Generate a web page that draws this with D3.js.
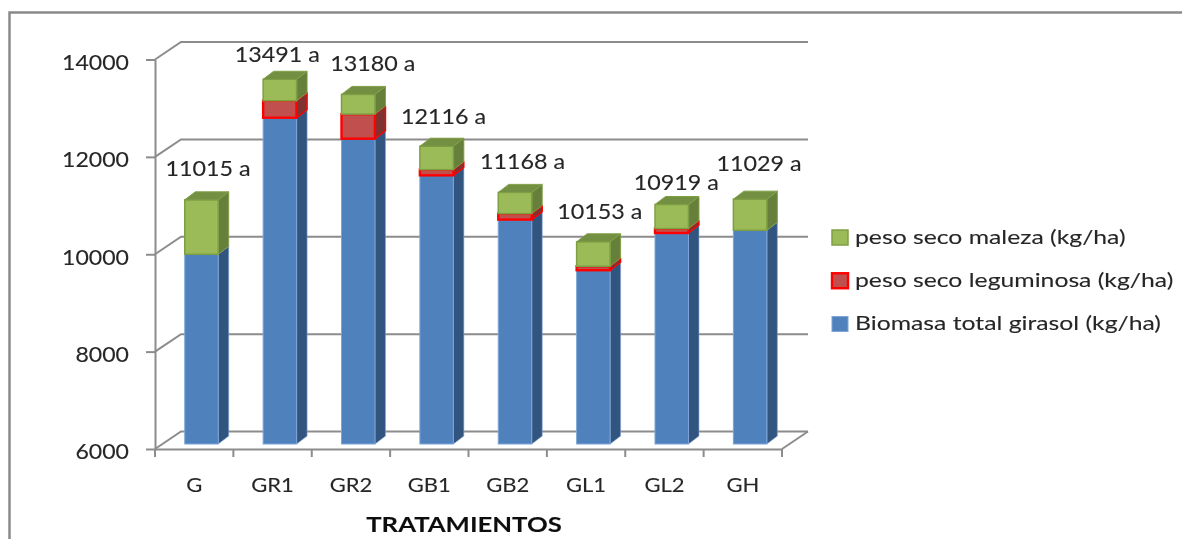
<!DOCTYPE html>
<html>
<head>
<meta charset="utf-8">
<script src="https://cdn.jsdelivr.net/npm/d3@7"></script>
<style>
    html, body { margin: 0; padding: 0; background: #fff; }
    svg { display: block; }
    text { font-family: Lato, "Open Sans", sans-serif; fill: #262626; stroke: #262626; stroke-width: 0.1px; }
</style>
</head>
<body>
<svg id="chart" width="1182" height="539"></svg>
<script>
const categories = ['G', 'GR1', 'GR2', 'GB1', 'GB2', 'GL1', 'GL2', 'GH'];
const biomasa = [9897, 12701, 12271, 11518, 10609, 9569, 10334, 10390];
const leguminosa = [0, 349, 505, 117, 123, 82, 90, 0];
const maleza = [1118, 441, 404, 481, 436, 502, 495, 639];
const totals = [11015, 13491, 13180, 12116, 11168, 10153, 10919, 11029];
const yTicks = [6000, 8000, 10000, 12000, 14000];
const seriesNames = ['Biomasa total girasol (kg/ha)', 'peso seco leguminosa (kg/ha)', 'peso seco maleza (kg/ha)'];
const axisTitle = 'TRATAMIENTOS';

const svg = d3.select('#chart');

// slightly soft edges, the original is an upscaled screenshot
svg.append('defs').append('filter')
    .attr('id', 'soft')
    .append('feGaussianBlur')
    .attr('stdDeviation', 0.55);

const root = svg.append('g').attr('filter', 'url(#soft)');

const plot = {left: 155, right: 782, top: 59.5, bottom: 449};
const wall = {dx: 26, dy: -17.5};     // depth of the back wall
const barPlane = {dx: 7.3, dy: -5};   // where the bars stand on the floor
const barDepth = {dx: 10.5, dy: -8};

const gridColor = '#8c8c8c';

const x = d3.scaleBand()
    .domain(categories)
    .range([plot.left, plot.right])
    .paddingInner(0.573)
    .paddingOuter(0.2865);

const y = d3.scaleLinear()
    .domain([6000, 14000])
    .range([plot.bottom, plot.top]);

const rows = categories.map((c, i) => ({
    name: c,
    biomasa: biomasa[i],
    leguminosa: leguminosa[i],
    maleza: maleza[i],
    total: totals[i]
}));

const stack = d3.stack().keys(['biomasa', 'leguminosa', 'maleza']);

const styles = {
    biomasa: {front: '#4f81bd', side: '#335580', stroke: '#7da5d6', width: 1},
    leguminosa: {front: '#c0504d', side: '#7f3331', stroke: '#ff0000', width: 2.4},
    maleza: {front: '#9bbb59', side: '#66803a', top: '#728f42', stroke: '#7f9f45', width: 1.5}
};

// stretch text sideways, Lato is narrower than the font in the picture
function widen(sel, factor) {
    sel.each(function() {
        const len = this.getComputedTextLength();
        d3.select(this)
            .attr('textLength', len * factor)
            .attr('lengthAdjust', 'spacingAndGlyphs');
    });
}

// outer frame, runs off the right and bottom of the picture
root.append('path')
    .attr('d', d3.line()([[9.5, 539], [9.5, 12.5], [1182, 12.5]]))
    .attr('fill', 'none')
    .attr('stroke', '#8a8a8a')
    .attr('stroke-width', 2.5);

// back wall gridlines and left wall diagonals
const grid = root.append('g')
    .attr('fill', 'none')
    .attr('stroke', gridColor)
    .attr('stroke-width', 2);

grid.selectAll('path.grid')
    .data(yTicks)
    .join('path')
    .attr('class', 'grid')
    .attr('d', d => d3.line()([
        [plot.left, y(d)],
        [plot.left + wall.dx, y(d) + wall.dy],
        [plot.right + wall.dx, y(d) + wall.dy]
    ]));

// floor edge on the right
grid.append('path')
    .attr('d', d3.line()([
        [plot.right, y(6000)],
        [plot.right + wall.dx, y(6000) + wall.dy]
    ]));

// axes
const yAxis = root.append('g')
    .attr('transform', `translate(${plot.left},0)`)
    .call(d3.axisLeft(y).tickValues(yTicks).tickFormat(d3.format('d')).tickSize(9).tickSizeOuter(0).tickPadding(17));

const xAxis = root.append('g')
    .attr('transform', `translate(0,${plot.bottom})`)
    .call(d3.axisBottom(x).tickSize(0).tickPadding(29));

yAxis.selectAll('.domain, line').attr('stroke', gridColor).attr('stroke-width', 2);
xAxis.select('.domain').attr('stroke', gridColor).attr('stroke-width', 2);

// the ticks of a 3d category axis sit between the categories
xAxis.selectAll('line.sep')
    .data(d3.range(categories.length + 1))
    .join('line')
    .attr('class', 'sep')
    .attr('x1', i => plot.left + i * x.step())
    .attr('x2', i => plot.left + i * x.step())
    .attr('y1', 0)
    .attr('y2', 8)
    .attr('stroke', gridColor)
    .attr('stroke-width', 2);

yAxis.selectAll('text')
    .attr('dy', '0.47em')
    .style('font-size', '21px')
    .style('font-family', 'Lato')
    .call(widen, 1.1);

xAxis.selectAll('text')
    .style('font-size', '20px')
    .style('font-family', 'Lato')
    .call(widen, 1.1);

// bars, left to right and bottom to top of each stack
const bars = root.append('g')
    .attr('transform', `translate(${barPlane.dx},${barPlane.dy})`);

const layers = stack(rows);

rows.forEach((row, i) => {
    const g = bars.append('g');
    const bx = x(row.name);
    const bw = x.bandwidth();

    layers.forEach(layer => {
        // the axis starts at 6000, clip the base of the stack there
        const y0 = Math.max(layer[i][0], y.domain()[0]);
        const y1 = layer[i][1];
        if (y1 - y0 <= 0) return;
        const st = styles[layer.key];

        // side face
        g.append('path')
            .attr('d', d3.line()([
                [bx + bw, y(y0)],
                [bx + bw + barDepth.dx, y(y0) + barDepth.dy],
                [bx + bw + barDepth.dx, y(y1) + barDepth.dy],
                [bx + bw, y(y1)]
            ]) + 'Z')
            .attr('fill', st.side)
            .attr('stroke', st.stroke)
            .attr('stroke-width', st.width * 0.6)
            .attr('stroke-linejoin', 'round');

        // front face
        g.append('rect')
            .attr('x', bx)
            .attr('y', y(y1))
            .attr('width', bw)
            .attr('height', y(y0) - y(y1))
            .attr('fill', st.front)
            .attr('stroke', st.stroke)
            .attr('stroke-width', st.width);
    });

    // top face of the stack
    const yTop = y(row.total);
    g.append('path')
        .attr('d', d3.line()([
            [bx, yTop],
            [bx + barDepth.dx, yTop + barDepth.dy],
            [bx + bw + barDepth.dx, yTop + barDepth.dy],
            [bx + bw, yTop]
        ]) + 'Z')
        .attr('fill', styles.maleza.top)
        .attr('stroke', styles.maleza.stroke)
        .attr('stroke-width', 1);
});

// labels above the bars, moved by hand in the original so offsets differ
const labelShift = [[6.5, -24], [-2.5, -17], [14.5, -23], [7, -22], [7.5, -23], [6.5, -22.5], [4.5, -15], [9, -28]];

root.append('g')
    .selectAll('text')
    .data(rows)
    .join('text')
    .attr('x', (d, i) => x(d.name) + x.bandwidth() / 2 + barPlane.dx + labelShift[i][0])
    .attr('y', (d, i) => y(d.total) + barPlane.dy + labelShift[i][1])
    .attr('text-anchor', 'middle')
    .style('font-size', '21px')
    .text(d => `${d.total} a`)
    .call(widen, 1.11);

// axis title
root.append('text')
    .attr('x', 464)
    .attr('y', 532)
    .attr('text-anchor', 'middle')
    .style('font-size', '20px')
    .style('font-weight', 'bold')
    .style('fill', '#111')
    .text(axisTitle)
    .call(widen, 1.285);

// legend, maleza on top
const legendY = d3.scalePoint()
    .domain(['peso seco maleza (kg/ha)', 'peso seco leguminosa (kg/ha)', 'Biomasa total girasol (kg/ha)'])
    .range([237, 323.5]);

const legendKeys = ['biomasa', 'leguminosa', 'maleza'];

const legend = root.append('g')
    .selectAll('g')
    .data(seriesNames)
    .join('g')
    .attr('transform', d => `translate(831,${legendY(d)})`);

legend.append('rect')
    .attr('x', 1)
    .attr('y', -7)
    .attr('width', 16)
    .attr('height', 15)
    .attr('fill', (d, i) => styles[legendKeys[i]].front)
    .attr('stroke', (d, i) => styles[legendKeys[i]].stroke)
    .attr('stroke-width', (d, i) => styles[legendKeys[i]].width);

legend.append('text')
    .attr('x', 24)
    .attr('y', 6.5)
    .style('font-size', '20px')
    .text(d => d)
    .call(widen, 1.237);
</script>
</body>
</html>
